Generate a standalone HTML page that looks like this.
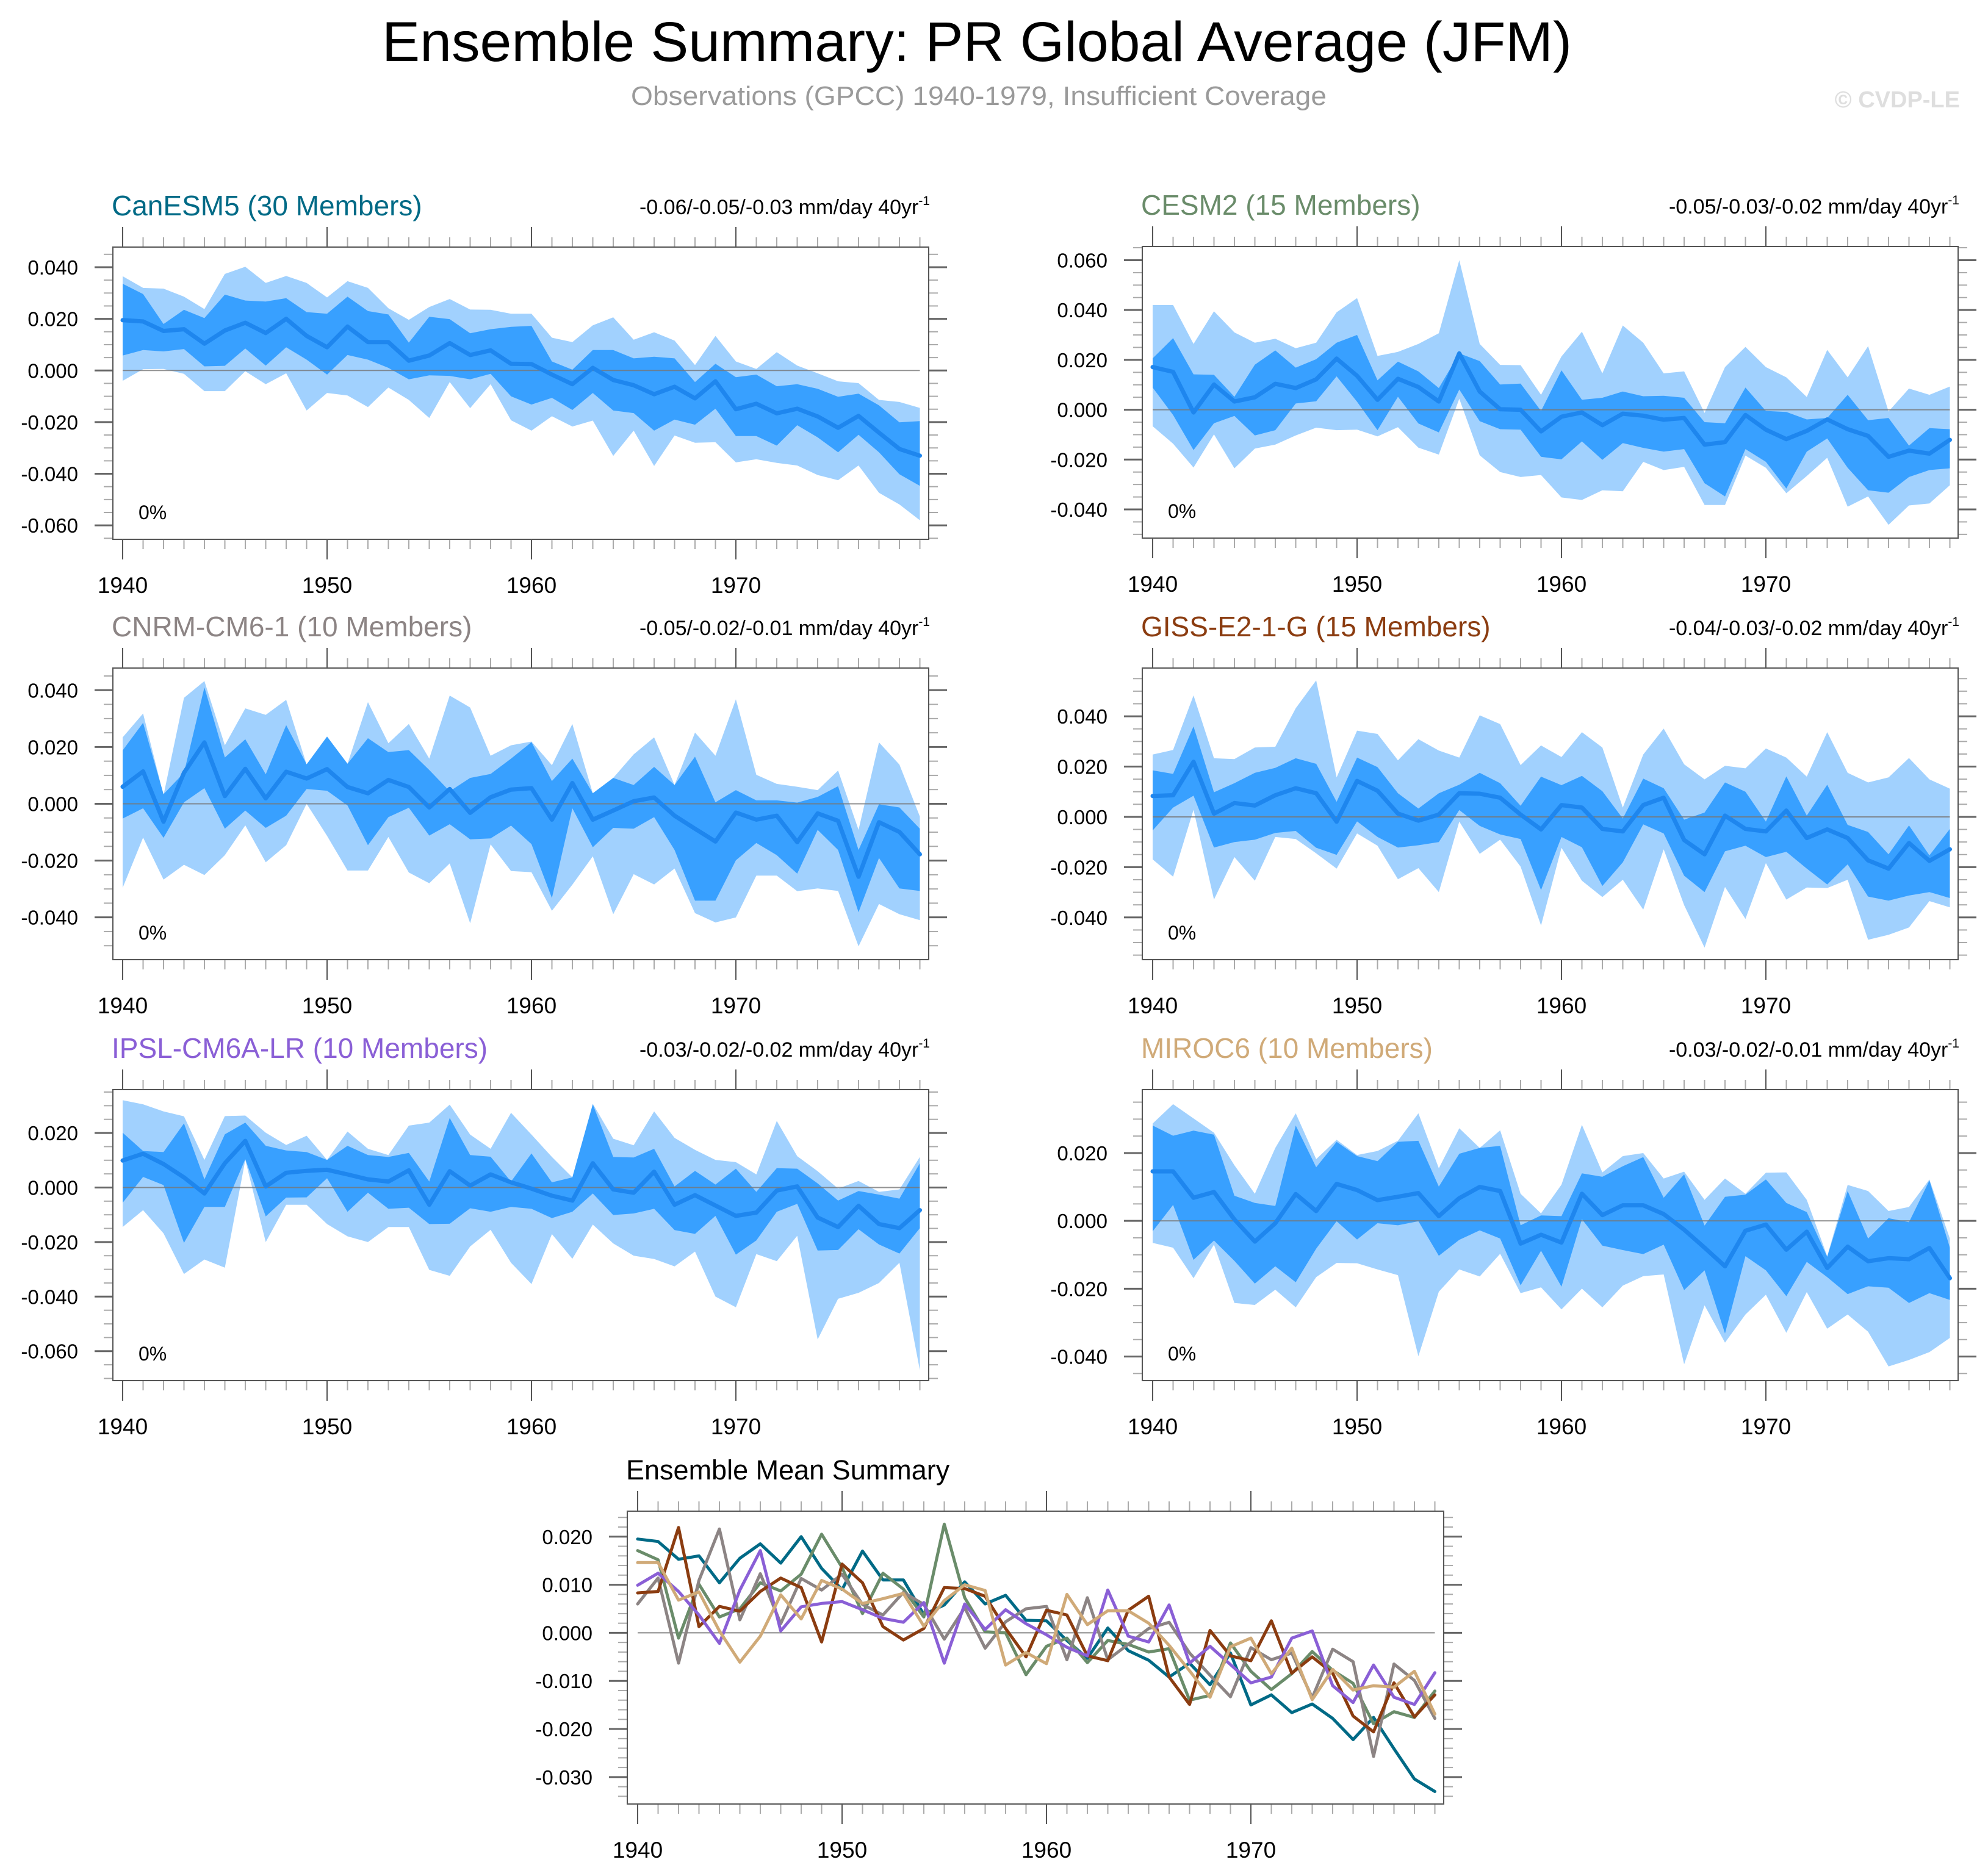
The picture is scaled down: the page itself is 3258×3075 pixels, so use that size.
<!DOCTYPE html>
<html><head><meta charset="utf-8"><title>Ensemble Summary: PR Global Average (JFM)</title>
<style>
html,body{margin:0;padding:0;background:#fff;}
svg{display:block;font-family:"Liberation Sans",Arial,sans-serif;}
</style></head>
<body>
<svg id="chart" xmlns="http://www.w3.org/2000/svg" width="3258" height="3075" viewBox="0 0 3258 3075">
<rect width="3258" height="3075" fill="#fff"/>
<text x="1601" y="100" font-size="92" text-anchor="middle" textLength="1950" lengthAdjust="spacingAndGlyphs" fill="#000">Ensemble Summary: PR Global Average (JFM)</text>
<text x="1604" y="172" font-size="44" text-anchor="middle" textLength="1140" lengthAdjust="spacingAndGlyphs" fill="#9a9a9a">Observations (GPCC) 1940-1979, Insufficient Coverage</text>
<text x="3212" y="176" font-size="38" font-weight="bold" text-anchor="end" fill="#dedede">© CVDP-LE</text>
</svg>
<script>
const years = [];
for (let y = 1940; y <= 1979; y++) years.push(y);
const xTickLabels = ["1940","1950","1960","1970"];
const modelNames = ["CanESM5 (30 Members)","CESM2 (15 Members)","CNRM-CM6-1 (10 Members)","GISS-E2-1-G (15 Members)","IPSL-CM6A-LR (10 Members)","MIROC6 (10 Members)"];
const trendLabels = ["-0.06/-0.05/-0.03","-0.05/-0.03/-0.02","-0.05/-0.02/-0.01","-0.04/-0.03/-0.02","-0.03/-0.02/-0.02","-0.03/-0.02/-0.01"];
const pctLabels = ["0%","0%","0%","0%","0%","0%"];

const canMean = [.0195,.019,.0153,.016,.0104,.0155,.0185,.0145,.020,.0134,.009,.017,.011,.011,.0038,.0058,.0106,.006,.0078,.0026,.0025,-.0016,-.0053,.001,-.0037,-.0057,-.0092,-.0063,-.0108,-.0042,-.015,-.0129,-.0166,-.0148,-.0178,-.0222,-.0176,-.0241,-.0304,-.033];
const canInHi = [.0336,.0296,.018,.0235,.0203,.0294,.0271,.0267,.028,.0226,.022,.0286,.023,.0217,.0108,.0208,.0199,.0144,.016,.0169,.0173,.0035,.0003,.0079,.0079,.0047,.0053,.0047,-.0045,.0026,-.0026,-.0016,-.0061,-.0053,-.0071,-.0102,-.009,-.0135,-.0201,-.0196];
const canInLo = [.0058,.0079,.0074,.0083,.0016,.0018,.0085,.0019,.009,.0042,-.0016,.006,.0042,.001,-.0034,-.0019,-.0021,-.0034,-.0013,-.01,-.0132,-.0106,-.0153,-.0087,-.0155,-.0165,-.0233,-.019,-.021,-.0148,-.0254,-.0254,-.0291,-.0212,-.0259,-.0317,-.0249,-.0317,-.0402,-.0447];
const canOutHi = [.0365,.032,.0317,.0286,.0238,.0374,.0402,.0339,.0366,.0339,.0283,.0346,.032,.0241,.0196,.0246,.0277,.0236,.0235,.022,.022,.0127,.011,.0175,.0206,.0119,.0148,.0116,.0021,.0134,.0035,.0006,.0071,.0019,-.0011,-.0042,-.0049,-.0114,-.0122,-.0145];
const canOutLo = [-.004,.0005,.0006,-.0013,-.008,-.008,-.0003,-.0053,-.0011,-.0155,-.0087,-.0097,-.0142,-.0066,-.0114,-.0184,-.0045,-.0146,-.0053,-.0193,-.0233,-.0177,-.0217,-.0194,-.0331,-.0233,-.037,-.0252,-.028,-.0278,-.0356,-.0344,-.0358,-.0368,-.0405,-.0425,-.0368,-.0474,-.0519,-.058];

const cesMean = [.0171,.0152,-.0011,.0101,.0033,.005,.0104,.0087,.0122,.0205,.0136,.004,.0124,.0091,.0033,.0226,.0073,.0002,0,-.0087,-.0028,-.0011,-.0062,-.0016,-.0024,-.004,-.0033,-.014,-.013,-.0021,-.008,-.0118,-.0085,-.0039,-.0078,-.0105,-.0189,-.0164,-.0176,-.0121];
const cesInHi = [.0206,.0287,.0142,.014,.0052,.0181,.0238,.0169,.0203,.0269,.030,.0118,.0193,.0154,.0087,.0226,.0195,.0101,.0105,-.0005,.0158,.004,.0048,.0073,.0054,.0056,.0048,-.005,-.0054,.0089,-.0005,-.0009,-.0039,-.0033,.006,-.0042,-.0033,-.0144,-.0074,-.0078];
const cesInLo = [.0089,-.0021,-.0162,-.0054,-.0025,-.0103,-.0082,.0025,.0034,.0134,.0032,-.0082,.0052,-.0055,-.0091,.0081,-.0046,-.0078,-.008,-.0189,-.0199,-.0127,-.0201,-.0134,-.0153,-.0168,-.0158,-.0295,-.0348,-.0158,-.0209,-.0316,-.0168,-.0115,-.0233,-.0323,-.0333,-.027,-.0242,-.0235];
const cesOutHi = [.042,.042,.0264,.0395,.031,.0269,.0285,.0247,.0269,.0391,.0448,.0216,.0232,.0264,.0307,.060,.0264,.018,.0179,.006,.0214,.0313,.0146,.0338,.0269,.0146,.0154,-.0013,.0171,.0252,.0171,.013,.0051,.024,.013,.0255,-.0007,.0085,.006,.0093];
const cesOutLo = [-.0066,-.0136,-.0232,-.0099,-.0235,-.0156,-.014,-.0103,-.0072,-.0082,-.008,-.0107,-.007,-.0152,-.018,.0044,-.0183,-.025,-.027,-.0262,-.0352,-.0362,-.0323,-.0327,-.0209,-.0242,-.0229,-.0382,-.0382,-.0184,-.0233,-.0335,-.0266,-.0193,-.0389,-.0348,-.0462,-.0384,-.0376,-.0303];

const cnrMean = [.006,.0114,-.0063,.0109,.0216,.0027,.0123,.0019,.0113,.0089,.0122,.0059,.0037,.0084,.0059,-.0013,.0052,-.0032,.0023,.005,.0055,-.0056,.0073,-.0056,-.0024,.0009,.0022,-.0042,-.0088,-.0133,-.0031,-.0056,-.0042,-.0135,-.0034,-.006,-.0257,-.0065,-.0099,-.0178];
const cnrInHi = [.0188,.0285,.0034,.0109,.041,.0163,.0227,.0104,.0277,.0139,.0237,.0141,.0231,.0182,.0189,.0119,.0044,.0091,.0105,.0159,.0217,.008,.0159,.0037,.0091,.0066,.013,.0066,.0166,.0005,.0048,.0012,.0012,.0004,.0024,.0062,-.0163,-.0002,-.0013,-.0088];
const cnrInLo = [-.0052,-.0016,-.012,.0005,.0055,-.0088,-.0024,-.0085,-.0042,.0052,.0046,-.0006,-.0146,-.0047,-.0014,-.0112,-.0072,-.0125,-.0122,-.0077,-.0142,-.0332,-.0016,-.0153,-.0085,-.0088,-.0047,-.0163,-.0341,-.0341,-.0199,-.0138,-.0181,-.0246,-.0092,-.0163,-.0382,-.0191,-.0298,-.0307];
const cnrOutHi = [.0234,.0318,.003,.0373,.0432,.0206,.0336,.0313,.0366,.0138,.0234,.0141,.0358,.0213,.0281,.0159,.0381,.0339,.0169,.0206,.0219,.0136,.0281,.0037,.0091,.0174,.0234,.0066,.0251,.0169,.0368,.0102,.007,.006,.0048,.0117,-.0092,.0216,.0138,-.0045];
const cnrOutLo = [-.0296,-.0119,-.0267,-.0215,-.0251,-.0181,-.0076,-.0206,-.0146,0,-.0113,-.0235,-.0235,-.0117,-.0242,-.028,-.021,-.0421,-.0143,-.0237,-.0241,-.0377,-.0285,-.0185,-.0389,-.0248,-.0284,-.0228,-.0385,-.0418,-.040,-.0253,-.0253,-.0308,-.0298,-.0307,-.0502,-.0353,-.0389,-.041];

const gisMean = [.0083,.0086,.0219,.0013,.0055,.0045,.0086,.0114,.0094,-.0019,.0143,.0104,.0013,-.0015,.0009,.0094,.0092,.0076,.0009,-.005,.0047,.0037,-.0048,-.0058,.0047,.0076,-.0092,-.0149,.0005,-.0048,-.0058,.0025,-.0084,-.005,-.0084,-.0173,-.0206,-.0104,-.0175,-.0129];
const gisInHi = [.0185,.0171,.036,.0098,.0134,.0175,.0195,.0233,.0211,.006,.0236,.0198,.0094,.0033,.0094,.0128,.0175,.0134,.0044,.016,.0126,.0163,.0102,-.0007,.0152,.0114,-.0011,.0017,.0137,.010,-.0019,.0161,.0005,.0128,-.0032,-.006,-.0149,-.0034,-.0153,-.0048];
const gisInLo = [-.0054,.0037,.0084,-.0122,-.010,-.0091,-.0064,-.0056,-.0123,-.0151,-.0018,-.008,-.0122,-.0113,-.010,.0027,-.0036,-.007,-.0088,-.0291,-.008,-.0121,-.0275,-.0181,-.003,-.0066,-.0234,-.0299,-.0137,-.0115,-.016,-.0139,-.0206,-.0269,-.0189,-.0317,-.0333,-.0313,-.0299,-.0323];
const gisOutHi = [.0248,.0266,.0483,.0233,.023,.0276,.0279,.0432,.0543,.0157,.0343,.033,.0225,.0309,.0264,.0236,.0404,.0369,.0206,.0284,.0238,.0337,.0276,.0037,.0248,.0351,.0209,.0149,.0203,.0193,.0272,.0236,.016,.0337,.0175,.0137,.0157,.0234,.0149,.0112];
const gisOutLo = [-.0169,-.0238,.0028,-.0329,-.016,-.0254,-.008,-.0088,-.0145,-.0206,-.0066,-.0115,-.0248,-.0204,-.0299,-.0019,-.0147,-.0091,-.0198,-.0432,-.0123,-.0254,-.0319,-.025,-.0369,-.0129,-.0351,-.052,-.0279,-.0406,-.0184,-.0329,-.0281,-.0283,-.025,-.0489,-.0469,-.044,-.0335,-.036];

const ipsMean = [.0099,.0124,.0086,.0037,-.0022,.0089,.0171,.0004,.0054,.0061,.0065,.0048,.003,.0022,.0063,-.0063,.006,.0007,.0048,.0019,-.0004,-.003,-.0048,.0089,-.0007,-.0019,.0058,-.0063,-.0028,-.0066,-.0104,-.0092,-.0011,.0004,-.011,-.0145,-.0067,-.0134,-.0149,-.0083];
const ipsInHi = [.0201,.0134,.013,.0235,.003,.0195,.0238,.0153,.0136,.013,.0101,.0153,.0119,.0112,.0127,.0022,.0255,.0119,.0113,.0022,.0125,.0019,.0037,.0305,.0112,.011,.0142,.0004,.0061,.0011,.0069,-.0016,.0071,.0069,.0015,-.0048,-.0013,-.0026,-.0041,.0089];
const ipsInLo = [-.0056,.0039,.0009,-.0203,-.0071,-.0071,.0104,-.0106,-.0037,-.0036,.0034,-.0089,-.0019,-.0078,-.0074,-.0134,-.0133,-.0076,-.0089,-.0071,-.0078,-.0112,-.0089,-.0022,-.0101,-.0095,-.0078,-.0156,-.017,-.0104,-.0246,-.0194,-.0089,-.006,-.0231,-.0229,-.0153,-.0209,-.0242,-.0149];
const ipsOutHi = [.032,.0305,.0279,.0261,.0101,.0262,.0264,.0201,.0156,.019,.0101,.0205,.0142,.0119,.0227,.0238,.0304,.0194,.0142,.0274,.0194,.0112,.0037,.0307,.0179,.0155,.0279,.0182,.0138,.0101,.0093,.0048,.0244,.0115,.006,-.0004,.0024,-.0016,-.0007,.0112];
const ipsOutLo = [-.0145,-.0083,-.0168,-.0317,-.0264,-.0294,.0101,-.020,-.0063,-.0063,-.0134,-.0179,-.020,-.0145,-.0145,-.0302,-.0324,-.0216,-.0155,-.0276,-.0354,-.0171,-.0261,-.0136,-.0205,-.025,-.0262,-.0289,-.0235,-.040,-.0439,-.0244,-.027,-.0177,-.0557,-.0408,-.0386,-.035,-.0276,-.067];

const mirMean = [.0146,.0146,.0068,.0085,.0004,-.0061,-.0007,.0079,.0029,.0109,.0091,.0061,.0071,.0082,.0014,.0067,.010,.0088,-.0067,-.0041,-.0064,.008,.0017,.0046,.0046,.002,-.0026,-.0079,-.0134,-.0029,-.0011,-.0085,-.0032,-.0139,-.0076,-.0119,-.011,-.0113,-.008,-.0169];
const mirInHi = [.0281,.0251,.0266,.0254,.0074,.0053,.0044,.0281,.0158,.0233,.0191,.0176,.0233,.0236,.0101,.0198,.0215,.0221,-.0013,.0016,.0014,.014,.013,.0161,.0188,.0068,.0137,-.0014,.0071,.0077,.0122,.0053,.0026,-.0106,.0088,-.0052,.0008,-.0004,.0119,-.0079];
const mirInLo = [-.0031,.0047,-.0115,-.0058,-.0118,-.0185,-.0134,-.0181,-.0082,-.0001,-.0055,-.0007,-.0013,-.0001,-.0103,-.0056,-.0028,-.0052,-.019,-.0088,-.0194,.0005,-.0073,-.0086,-.0098,-.007,-.0204,-.0146,-.0332,-.0104,-.0146,-.0222,-.0121,-.0166,-.0216,-.0193,-.0197,-.0242,-.0213,-.0233];
const mirOutHi = [.0287,.0344,.0302,.026,.0164,.008,.0215,.0317,.0182,.0239,.0194,.0206,.0236,.0317,.0155,.0273,.0215,.0267,.008,.0022,.0107,.0283,.0143,.0191,.020,.0125,.0145,.0062,.0125,.008,.0142,.0143,.0062,-.0104,.0106,.0088,.0029,.0041,.0122,-.0052];
const mirOutLo = [-.0065,-.0079,-.0169,-.007,-.0242,-.0248,-.0203,-.0255,-.0166,-.0124,-.0125,-.0143,-.016,-.0399,-.0209,-.0143,-.0164,-.0097,-.0213,-.0196,-.0261,-.020,-.0255,-.0191,-.0163,-.0158,-.0423,-.0249,-.0359,-.0276,-.0218,-.033,-.021,-.0318,-.0276,-.0327,-.0429,-.041,-.0387,-.0345];

const panelYTicks = [[0.04,0.02,0,-0.02,-0.04,-0.06],[0.06,0.04,0.02,0,-0.02,-0.04],[0.04,0.02,0,-0.02,-0.04],[0.04,0.02,0,-0.02,-0.04],[0.02,0,-0.02,-0.04,-0.06],[0.02,0,-0.02,-0.04]];
const summaryYTicks = [0.02,0.01,0,-0.01,-0.02,-0.03];
const modelColors = ["#006a86","#6a8c6a","#8c8484","#8b3c10","#8a5fd6","#d0aa78"];

const NS = "http://www.w3.org/2000/svg";
const svg = document.getElementById("chart");
function mk(tag, attrs, parent) {
  const e = document.createElementNS(NS, tag);
  for (const k in attrs) e.setAttribute(k, attrs[k]);
  (parent || svg).appendChild(e);
  return e;
}
function fmt(v){ return Math.abs(v) < 1e-9 ? "0.000" : v.toFixed(3); }

const boxes = [
  {l:185,r:1522,t:405,b:884, top:0.0478, bot:-0.0654, x0:201},
  {l:1872,r:3209,t:404,b:882, top:0.0655, bot:-0.0515, x0:1889},
  {l:185,r:1522,t:1095,b:1573, top:0.0478, bot:-0.0549, x0:201},
  {l:1872,r:3209,t:1095,b:1573, top:0.0592, bot:-0.0568, x0:1889},
  {l:185,r:1522,t:1786,b:2263, top:0.0359, bot:-0.0708, x0:201},
  {l:1872,r:3209,t:1786,b:2263, top:0.0387, bot:-0.0471, x0:1889}
];
const panelData = [
  [canMean,canInHi,canInLo,canOutHi,canOutLo],
  [cesMean,cesInHi,cesInLo,cesOutHi,cesOutLo],
  [cnrMean,cnrInHi,cnrInLo,cnrOutHi,cnrOutLo],
  [gisMean,gisInHi,gisInLo,gisOutHi,gisOutLo],
  [ipsMean,ipsInHi,ipsInLo,ipsOutHi,ipsOutLo],
  [mirMean,mirInHi,mirInLo,mirOutHi,mirOutLo]
];
const STEP = 33.5;

function drawAxes(g, B, yTicks, minorStep, xs, ys) {
  for (let v = Math.ceil(B.bot/minorStep)*minorStep; v <= B.top + 1e-9; v += minorStep) {
    const y = ys(v);
    const tl = mk("line",{x1:B.l-15,x2:B.l,y1:y,y2:y,stroke:"#aaa","stroke-width":2},g);
    
    
    const tr = mk("line",{x1:B.r,x2:B.r+15,y1:y,y2:y,stroke:"#aaa","stroke-width":2},g);
    
    
  }
  yTicks.forEach(v => {
    const y = ys(v);
    const a = mk("line",{x1:B.l-30,x2:B.l,y1:y,y2:y,stroke:"#666","stroke-width":3},g);
    
    
    const b = mk("line",{x1:B.r,x2:B.r+30,y1:y,y2:y,stroke:"#666","stroke-width":3},g);
    
    
    const t = mk("text",{x:B.l-57,y:y+12,"font-size":33,"text-anchor":"end",fill:"#000"},g);
    
    
    t.textContent = fmt(v);
  });
  years.forEach((yr,i) => {
    const x = xs(i);
    const major = yr % 10 === 0;
    const len = major ? 33 : 16;
    const col = major ? "#555" : "#aaa";
    const a = mk("line",{x1:x,x2:x,y1:B.b,y2:B.b+len,stroke:col,"stroke-width":2},g);
    
    
    const b = mk("line",{x1:x,x2:x,y1:B.t-len,y2:B.t,stroke:col,"stroke-width":2},g);
    
    
  });
  xTickLabels.forEach(lbl => {
    const i = years.indexOf(+lbl);
    const t = mk("text",{x:xs(i),y:B.b+88,"font-size":37,"text-anchor":"middle",fill:"#000"},g);
    
    
    t.textContent = lbl;
  });
  const frame = mk("rect",{x:B.l,y:B.t,width:B.r-B.l,height:B.b-B.t,fill:"none",stroke:"#555","stroke-width":2},g);
  
  
}

function band(g, hi, lo, xs, ys, color, name) {
  let d = "";
  hi.forEach((v,i)=>{ d += (i?"L":"M") + xs(i).toFixed(1) + "," + ys(v).toFixed(1); });
  for (let i = lo.length-1; i >= 0; i--) d += "L" + xs(i).toFixed(1) + "," + ys(lo[i]).toFixed(1);
  const p = mk("path",{d:d+"Z",fill:color,stroke:"none"},g);
  
  
}
function line(g, vals, xs, ys, color, w, name) {
  const pts = vals.map((v,i)=> xs(i).toFixed(1)+","+ys(v).toFixed(1)).join(" ");
  const p = mk("polyline",{points:pts,fill:"none",stroke:color,"stroke-width":w,"stroke-linejoin":"round","stroke-linecap":"round"},g);
  
  
}

boxes.forEach((B,k) => {
  const g = mk("g",{});
  
  
  const xs = i => B.x0 + i*STEP;
  const ys = v => B.t + (B.top - v) / (B.top - B.bot) * (B.b - B.t);
  const [mean, inHi, inLo, outHi, outLo] = panelData[k];
  band(g, outHi, outLo, xs, ys, "#a1d1fe", "outer-spread-band");
  band(g, inHi, inLo, xs, ys, "#38a0ff", "inner-spread-band");
  const z = mk("line",{x1:xs(0),x2:xs(years.length-1),y1:ys(0),y2:ys(0),stroke:"#777","stroke-width":2,opacity:0.8},g);
  
  
  line(g, mean, xs, ys, "#1e86ee", 7, "ensemble-mean-line");
  drawAxes(g, B, panelYTicks[k], 0.005, xs, ys);
  const tt = mk("text",{x:B.l-2,y:B.t-52,"font-size":46,fill:modelColors[k]},g);
  
  
  tt.textContent = modelNames[k];
  const tr = mk("text",{x:B.r+2,y:B.t-54,"font-size":34,"text-anchor":"end",fill:"#000"},g);
  
  
  tr.textContent = trendLabels[k] + " mm/day 40yr";
  const sup = mk("tspan",{dy:-15,"font-size":21},tr);
  sup.textContent = "-1";
  const pc = mk("text",{x:B.l+42,y:B.b-33,"font-size":32,fill:"#000"},g);
  
  
  pc.textContent = pctLabels[k];
});

(function(){
  const B = {l:1028,r:2366,t:2477,b:2957, top:0.0253, bot:-0.0356, x0:1045};
  const g = mk("g",{});
  
  
  const xs = i => B.x0 + i*STEP;
  const ys = v => B.t + (B.top - v) / (B.top - B.bot) * (B.b - B.t);
  const z = mk("line",{x1:xs(0),x2:xs(years.length-1),y1:ys(0),y2:ys(0),stroke:"#888","stroke-width":2},g);
  
  
  const names = ["canesm5-mean-line","cesm2-mean-line","cnrm-mean-line","giss-mean-line","ipsl-mean-line","miroc6-mean-line"];
  panelData.forEach((pd,k)=> line(g, pd[0], xs, ys, modelColors[k], 5, names[k]));
  drawAxes(g, B, summaryYTicks, 0.002, xs, ys);
  const tt = mk("text",{x:B.l-2,y:B.t-52,"font-size":45,fill:"#000"},g);
  
  
  tt.textContent = "Ensemble Mean Summary";
})();
</script>
</body></html>
